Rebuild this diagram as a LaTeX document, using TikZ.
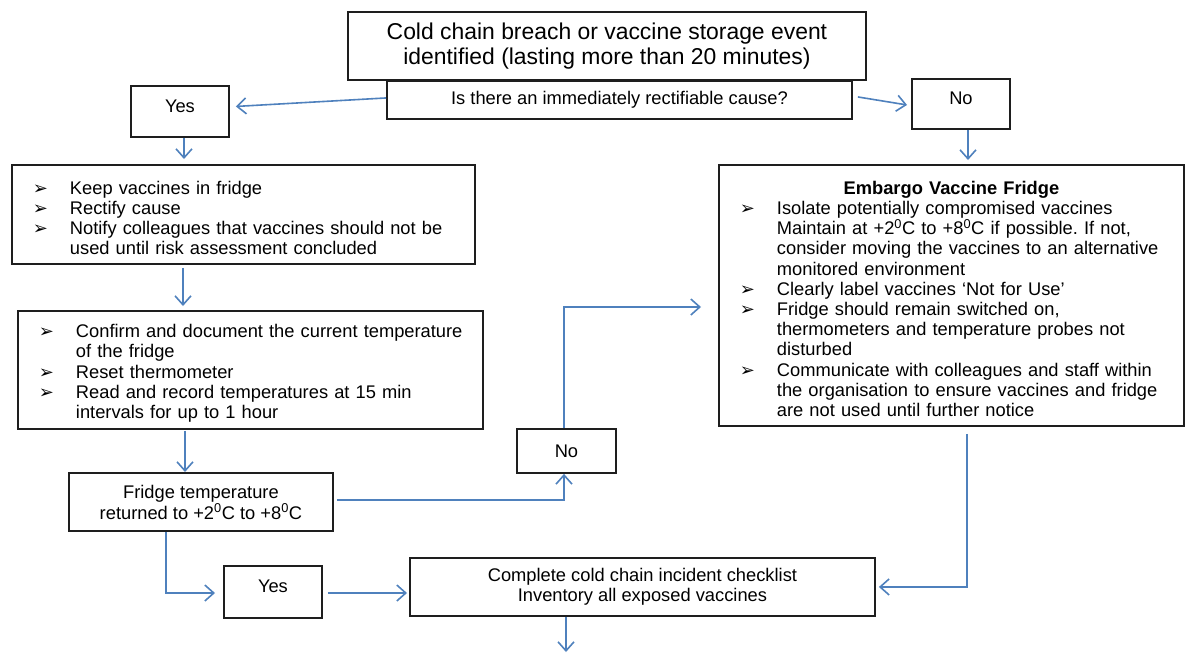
\documentclass[tikz,border=0pt]{standalone}
\usepackage{fontspec}
\setmainfont{Liberation Sans}
\newfontfamily\dingfont{DejaVu Sans}
\usetikzlibrary{arrows.meta}
\frenchspacing

\definecolor{flowblue}{RGB}{79,129,189}
\definecolor{boxline}{RGB}{30,30,30}

% arrow-head bullet and list lines used inside the action boxes
\newcommand\bul{{\dingfont\fontsize{18}{18}\selectfont ➢}}
\newcommand\bitem[1]{\par\noindent\hspace*{21pt}\makebox[37pt][l]{\bul}#1}
\newcommand\bcont[1]{\par\noindent\hspace*{58pt}#1}

\tikzset{
  box/.style={draw=boxline, line width=1.9pt, rectangle, inner sep=0pt,
    anchor=north west, fill=white},
  small/.style={font=\fontsize{18.3}{20.2}\selectfont},
  listbox/.style={box, small},
  arr/.style={draw=flowblue, line width=1.6pt,
    -{Straight Barb[length=9pt,width=16pt]}},
}

\begin{document}
\begin{tikzpicture}[x=1pt,y=-1pt]
\useasboundingbox[fill=white] (0,0) rectangle (1185,654);

% ---- boxes ----
\node[box, minimum width=518pt, minimum height=68pt, align=center,
  font=\fontsize{22.9}{25}\selectfont] (event) at (347,11)
  {Cold chain breach or vaccine storage event\\identified (lasting more than 20 minutes)};
\node[box, small, minimum width=465pt, minimum height=38pt] (q) at (386,80)
  {Is there an immediately rectifiable cause?};
\node[box, small, minimum width=98pt, minimum height=51pt, text depth=11pt] (yes1) at (130,85) {Yes};
\node[box, small, minimum width=98pt, minimum height=50pt, text depth=12pt] (no1) at (911,78) {No};

\node[listbox, text width=463pt, minimum height=99pt] (keep) at (11,164) {%
  \bitem{Keep vaccines in fridge}
  \bitem{Rectify cause}
  \bitem{Notify colleagues that vaccines should not be}
  \bcont{used until risk assessment concluded}\par};

\node[listbox, text width=465pt, minimum height=118pt] (confirm) at (17,310) {%
  \bitem{Confirm and document the current temperature}
  \bcont{of the fridge}
  \bitem{Reset thermometer}
  \bitem{Read and record temperatures at 15 min}
  \bcont{intervals for up to 1 hour}\par};

\node[listbox, text width=465pt, minimum height=261pt] (embargo) at (718,164) {%
  \par\noindent\makebox[\linewidth][c]{\bfseries Embargo Vaccine Fridge}
  \bitem{Isolate potentially compromised vaccines}
  \bcont{Maintain at +2\textsuperscript{0}C to +8\textsuperscript{0}C if possible. If not,}
  \bcont{consider moving the vaccines to an alternative}
  \bcont{monitored environment}
  \bitem{Clearly label vaccines `Not for Use'}
  \bitem{Fridge should remain switched on,}
  \bcont{thermometers and temperature probes not}
  \bcont{disturbed}
  \bitem{Communicate with colleagues and staff within}
  \bcont{the organisation to ensure vaccines and fridge}
  \bcont{are not used until further notice}\par};

\node[box, minimum width=264pt, minimum height=58pt, align=center,
  font=\fontsize{18.3}{21}\selectfont] (fridge) at (68,472)
  {Fridge temperature\\returned to +2\textsuperscript{0}C to +8\textsuperscript{0}C};
\node[box, small, minimum width=99pt, minimum height=44pt] (no2) at (516,428) {No};
\node[box, small, minimum width=98pt, minimum height=52pt, text depth=12pt] (yes2) at (223,565) {Yes};
\node[box, small, minimum width=465pt, minimum height=58pt, align=center] (check) at (409,557)
  {Complete cold chain incident checklist\\Inventory all exposed vaccines};

% ---- guide coordinates for vertical runs ----
\coordinate (xa) at (184,0);
\coordinate (xb) at (183,0);
\coordinate (xc) at (185,0);
\coordinate (xd) at (968,0);
\coordinate (xe) at (564,0);
\coordinate (xf) at (166,0);
\coordinate (xg) at (967,0);
\coordinate (xh) at (566,0);
\coordinate (ya) at (0,307);
\coordinate (yb) at (0,593);
\coordinate (yc) at (0,500);
\coordinate (exit) at (566,652);

% ---- connectors ----
\draw[arr] ([yshift=2pt]q.west) -- ([xshift=6pt,yshift=5pt]yes1.east);
\draw[arr] ([xshift=5pt,yshift=3pt]q.east) -- ([xshift=-4pt,yshift=-1pt]no1.west);
\draw[arr, shorten >=5pt] (yes1.south -| xa) -- (keep.north -| xa);
\draw[arr, shorten >=4pt] (no1.south -| xd) -- (embargo.north -| xd);
\draw[arr, shorten <=3pt, shorten >=4pt] (keep.south -| xb) -- (confirm.north -| xb);
\draw[arr, shorten <=1pt] (confirm.south -| xc) -- (fridge.north -| xc);
\draw[arr, shorten <=3pt] (fridge.east |- yc) -| (no2.south -| xe);
\draw[arr, shorten >=17pt] (no2.north -| xe) |- (embargo.west |- ya);
\draw[arr, shorten >=8pt] (fridge.south -| xf) |- (yes2.west |- yb);
\draw[arr, shorten <=5pt, shorten >=2pt] (yes2.east |- yb) -- (check.west |- yb);
\draw[arr, shorten <=7pt, shorten >=3pt] (embargo.south -| xg) |- (check.east);
\draw[arr] (check.south -| xh) -- (exit);
\end{tikzpicture}
\end{document}
